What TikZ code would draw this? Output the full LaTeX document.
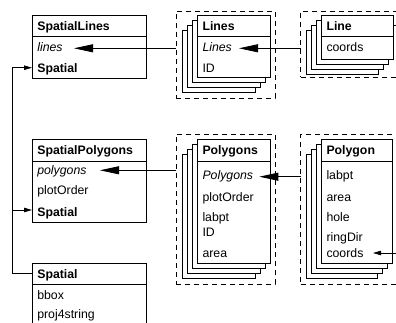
\documentclass[tikz,border=0pt]{standalone}
\usepackage{fontspec}
\setmainfont{Liberation Sans}
\usetikzlibrary{arrows.meta,calc}
\begin{document}
\begin{tikzpicture}[x=1pt,y=-1pt,
  box/.style={draw=black, line width=0.9pt, fill=white, inner sep=0pt, outer sep=0pt, anchor=north west},
  shadowbox/.style={draw=black, line width=0.9pt, fill=white},
  grp/.style={draw=black, line width=0.8pt, dash pattern=on 5pt off 4pt, inner sep=0pt, outer sep=0pt, anchor=north west},
  txt/.style={inner sep=0pt, outer sep=0pt, anchor=base west, font=\fontsize{12.3}{14}\selectfont},
  bld/.style={txt, font=\fontsize{12.3}{14}\selectfont\bfseries},
  ita/.style={txt, font=\fontsize{12.3}{14}\selectfont\itshape},
  conn/.style={draw=black, line width=0.8pt},
  bigarrow/.style={conn, -{Triangle[length=19pt,width=8pt]}},
  smallarrow/.style={conn, -{Triangle[length=8pt,width=4.5pt]}},
]
\useasboundingbox (0,0) rectangle (396,323);
\clip (0,0) rectangle (396,323);

% dashed groups
\node[grp, minimum width=99pt, minimum height=87pt] (glines) at (176,11) {};
\node[grp, minimum width=110pt, minimum height=66pt] (gline) at (300.5,11) {};
\node[grp, minimum width=99pt, minimum height=150pt] (gpolys) at (176,134) {};
\node[grp, minimum width=110pt, minimum height=150pt] (gpoly) at (300.5,134) {};

% stacked shadows
\foreach \k in {3,2,1} {
  \draw[shadowbox] (197-5*\k,15+5*\k) rectangle +(73,62);
  \draw[shadowbox] (321-5*\k,15+5*\k) rectangle +(72,44);
  \draw[shadowbox] (197-5*\k,139+5*\k) rectangle +(73,124);
  \draw[shadowbox] (321-5*\k,139+5*\k) rectangle +(71,124);
}

% boxes
\node[box, minimum width=114pt, minimum height=63pt] (splines) at (32,15) {};
\node[box, minimum width=73pt, minimum height=62pt] (lines) at (197,15) {};
\node[box, minimum width=72pt, minimum height=44pt] (line) at (321,15) {};
\node[box, minimum width=114pt, minimum height=83pt] (sppolys) at (32,139) {};
\node[box, minimum width=73pt, minimum height=124pt] (polys) at (197,139) {};
\node[box, minimum width=71pt, minimum height=124pt] (poly) at (321,139) {};
\node[box, minimum width=114pt, minimum height=80pt] (spatial) at (32,263) {};

% header separators
\draw[conn, line width=0.9pt] (splines.west |- 0,36) -- (splines.east |- 0,36);
\draw[conn, line width=0.9pt] (lines.west |- 0,36) -- (lines.east |- 0,36);
\draw[conn, line width=0.9pt] (line.west |- 0,36) -- (line.east |- 0,36);
\draw[conn, line width=0.9pt] (sppolys.west |- 0,161) -- (sppolys.east |- 0,161);
\draw[conn, line width=0.9pt] (polys.west |- 0,161) -- (polys.east |- 0,161);
\draw[conn, line width=0.9pt] (poly.west |- 0,161) -- (poly.east |- 0,161);
\draw[conn, line width=0.9pt] (spatial.west |- 0,284) -- (spatial.east |- 0,284);

% texts: SpatialLines
\node[bld] (t11) at (37.3,30.7) {SpatialLines};
\node[ita] (t12) at (37.3,51.7) {lines};
\node[bld] (t13) at (37.3,73) {Spatial};
% Lines
\node[bld] (t21) at (202.5,30.7) {Lines};
\node[ita] (t22) at (202.5,51.7) {Lines};
\node[txt] (t23) at (202.5,72.7) {ID};
% Line
\node[bld] (t31) at (326.5,30.7) {Line};
\node[txt] (t32) at (326.5,51.7) {coords};
% SpatialPolygons
\node[bld] (t41) at (37.3,155) {SpatialPolygons};
\node[ita] (t42) at (37.3,175) {polygons};
\node[txt] (t43) at (37.3,195) {plotOrder};
\node[bld] (t44) at (37.3,216.7) {Spatial};
% Polygons
\node[bld] (t51) at (202.5,155) {Polygons};
\node[ita] (t52) at (202.5,180) {Polygons};
\node[txt] (t53) at (202.5,201.7) {plotOrder};
\node[txt] (t54) at (202.5,221.7) {labpt};
\node[txt] (t55) at (202.5,236.7) {ID};
\node[txt] (t56) at (202.5,257.3) {area};
% Polygon
\node[bld] (t61) at (326.5,155) {Polygon};
\node[txt] (t62) at (326.5,180) {labpt};
\node[txt] (t63) at (326.5,201.7) {area};
\node[txt] (t64) at (326.5,221.7) {hole};
\node[txt] (t65) at (326.5,241.7) {ringDir};
\node[txt] (t66) at (326.5,257.3) {coords};
% Spatial
\node[bld] (t71) at (37.3,278.3) {Spatial};
\node[txt] (t72) at (37.3,299) {bbox};
\node[txt] (t73) at (37.3,318.3) {proj4string};

% connector end points
\coordinate (a1) at (74,48.3);
\coordinate (a2) at (239,48.3);
\coordinate (a3) at (100,170.3);
\coordinate (a4) at (259.3,176.7);
\coordinate (a5) at (373,253);
\coordinate (offR) at (400,253);
\coordinate (stubR) at (400,25);
\coordinate (busTop) at (12,67.7);
\coordinate (busMid) at (12,210);
\coordinate (busBot) at (12,273.3);

% connectors
\draw[bigarrow] (glines.west |- a1) -- (a1);
\draw[bigarrow] (gline.west |- a2) -- (a2);
\draw[bigarrow] (gpolys.west |- a3) -- (a3);
\draw[bigarrow] (gpoly.west |- a4) -- (a4);
\draw[smallarrow] (offR) -- (a5);
\draw[conn] (line.east |- stubR) -- (stubR);
\draw[conn] (spatial.west |- busBot) -- (busBot) -- (busTop);
\draw[smallarrow] (busTop) -- (splines.west |- busTop);
\draw[smallarrow] (busMid) -- (sppolys.west |- busMid);
\end{tikzpicture}
\end{document}
